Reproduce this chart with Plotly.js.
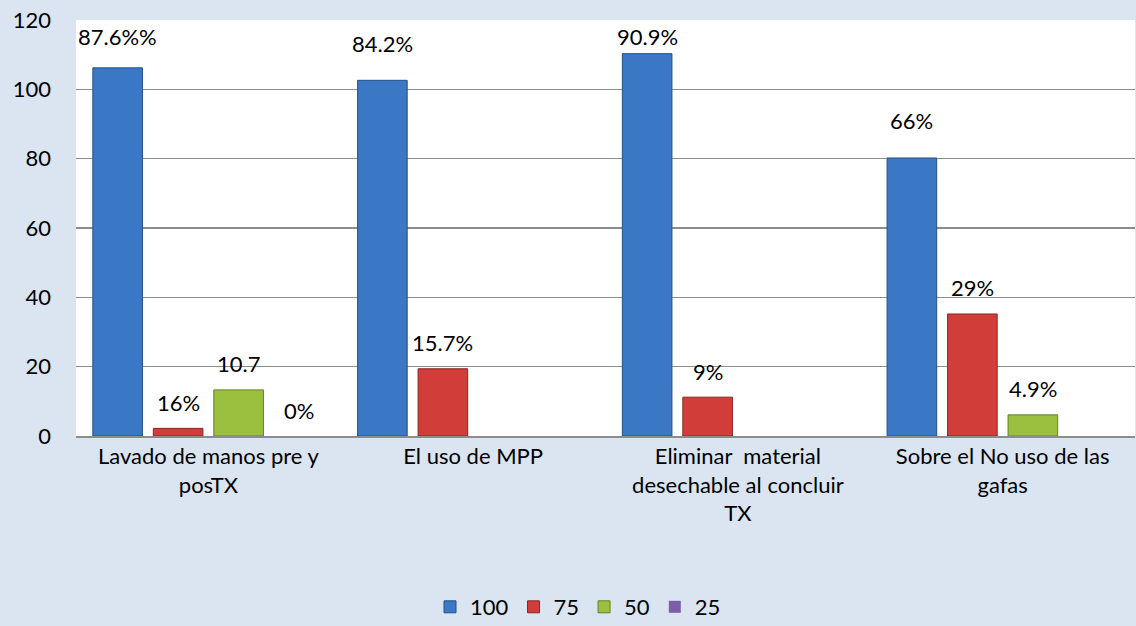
<!DOCTYPE html>
<html>
<head>
<meta charset="utf-8">
<script src="https://cdn.plot.ly/plotly-3.0.1.min.js"></script>
<style>
html,body{margin:0;padding:0;background:#dbe5f1;}
#chart{width:1136px;height:626px;}
</style>
</head>
<body>
<div id="chart"></div>
<script>
// ---- data ----
const categories = [
  "Lavado de manos pre y<br>posTX",
  "El uso de MPP",
  "Eliminar  material<br>desechable al concluir<br>TX",
  "Sobre el No uso de las<br>gafas"
];
const seriesNames = ["100", "75", "50", "25"];
const values100 = [106.2, 102.6, 110.3, 80.2];
const values75  = [2.2, 19.4, 11.2, 35.2];
const values50  = [13.3, 0, 0, 6.1];
const values25  = [0, 0, 0, 0];
const labels100 = ["87.6%%", "84.2%", "90.9%", "66%"];
const labels75  = ["16%", "15.7%", "9%", "29%"];
const labels50  = ["10.7", "", "", "4.9%"];
const labels25  = ["0%", "", "", ""];
const yTicks = [0, 20, 40, 60, 80, 100, 120];

// ---- styling ----
const allValues = [values100, values75, values50, values25];
const allLabels = [labels100, labels75, labels50, labels25];
const fills = ["#3a78c6", "#d13e3a", "#9bbf3e", "#7b5ea7"];
const edges = ["#24508a", "#8a2624", "#66821f", "#4f3a70"];
const FONT = "Lato, 'Open Sans', sans-serif";
const FS = 22;

const marginL = 76, marginR = 1, W = 1136;
const marginT = 20, marginB = 190, H = 626;
const plotW = W - marginL - marginR;
const plotH = H - marginT - marginB;
const yMax = 120;
const pxPerUnit = plotH / yMax;
const bargap = 0.086;
const slot = (1 - bargap) / 4;

const xIdx = categories.map((c, i) => i);

const traces = allValues.map((vals, j) => ({
  type: "bar",
  name: seriesNames[j],
  x: xIdx,
  y: vals,
  marker: {
    color: fills[j],
    line: {color: edges[j], width: vals.map(v => v > 0 ? 1 : 0)}
  },
  hoverinfo: "x+y"
}));

const annotations = [];
allLabels.forEach((labs, j) => {
  labs.forEach((t, i) => {
    if (!t) return;
    const shift = j === 0 ? 37 : 26;
    let y = allValues[j][i] + shift / pxPerUnit;
    y = Math.min(y, yMax - 16 / pxPerUnit);
    annotations.push({
      x: i + (j - 1.5) * slot,
      y: y,
      xref: "x", yref: "y",
      text: t,
      showarrow: false,
      xanchor: "center", yanchor: "middle",
      font: {family: FONT, size: FS, color: "#000"}
    });
  });
});

const layout = {
  width: W, height: H,
  paper_bgcolor: "#dbe5f1",
  plot_bgcolor: "#ffffff",
  margin: {l: marginL, r: marginR, t: marginT, b: marginB, autoexpand: false},
  barmode: "group",
  bargap: bargap,
  bargroupgap: 0.18,
  showlegend: true,
  legend: {
    orientation: "h",
    x: (578 - marginL) / plotW, xanchor: "center",
    y: -(607 - 436) / plotH, yanchor: "middle",
    font: {family: FONT, size: FS, color: "#000"},
    bgcolor: "rgba(0,0,0,0)",
    itemwidth: 30,
    tracegroupgap: 0
  },
  xaxis: {
    tickmode: "array",
    tickvals: xIdx,
    ticktext: categories,
    range: [-0.5, categories.length - 0.5],
    showgrid: false,
    zeroline: false,
    showline: true,
    linecolor: "#8c8c8c",
    linewidth: 1.5,
    ticks: "",
    tickangle: 0,
    ticklabelstandoff: 0,
    tickfont: {family: FONT, size: FS, color: "#000"}
  },
  yaxis: {
    range: [0, yMax],
    tickmode: "array",
    tickvals: yTicks,
    showgrid: true,
    gridcolor: "#8c8c8c",
    gridwidth: 1.5,
    zeroline: false,
    showline: false,
    ticks: "",
    ticklabelstandoff: 24,
    tickfont: {family: FONT, size: FS, color: "#000"}
  },
  annotations: annotations,
  font: {family: FONT, size: FS, color: "#000"}
};

Plotly.newPlot("chart", traces, layout, {displayModeBar: false, staticPlot: true});
</script>
</body>
</html>
